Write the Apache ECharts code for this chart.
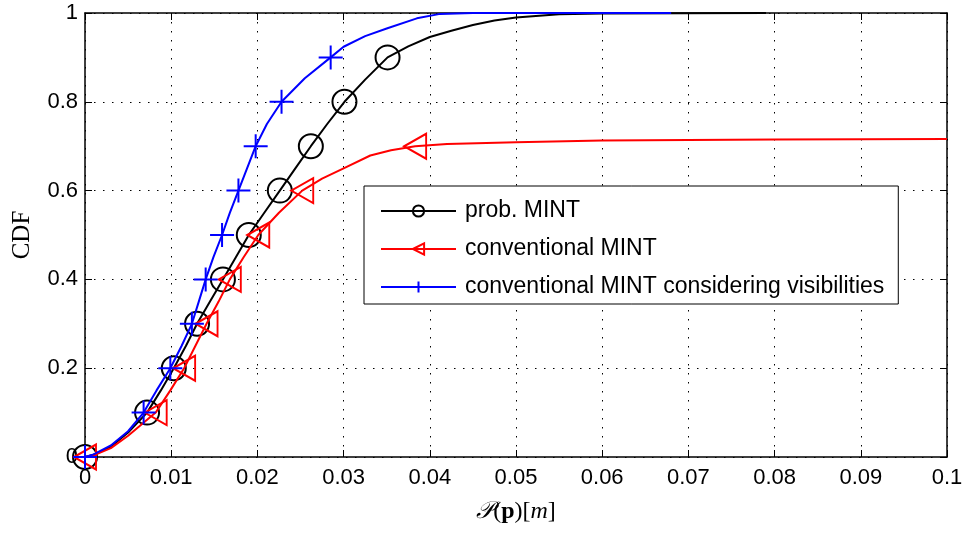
<!DOCTYPE html>
<html>
<head>
<meta charset="utf-8">
<script src="https://cdn.jsdelivr.net/npm/echarts@6/dist/echarts.min.js"></script>
<style>
  html, body { margin: 0; padding: 0; background: #fff; }
  #chart { width: 968px; height: 533px; }
</style>
</head>
<body>
<div id="chart"></div>
<script>
// Empirical CDF curves of the positioning error P(p) in metres
const seriesNames = ['prob. MINT', 'conventional MINT', 'conventional MINT considering visibilities'];

// CDF levels at which each curve carries a marker
const markerLevels = [0, 0.1, 0.2, 0.3, 0.4, 0.5, 0.6, 0.7, 0.8, 0.9];

const xTicks = [0, 0.01, 0.02, 0.03, 0.04, 0.05, 0.06, 0.07, 0.08, 0.09, 0.1];
const yTicks = [0, 0.2, 0.4, 0.6, 0.8, 1];

// prob. MINT
const probErr = [0, 0.001, 0.003, 0.005, 0.0072, 0.0088, 0.0103, 0.0117, 0.013, 0.0145, 0.016, 0.0175, 0.019,
  0.0208, 0.0226, 0.0244, 0.0262, 0.0281, 0.0301, 0.0325, 0.0351, 0.0375, 0.04, 0.0425, 0.045, 0.0475, 0.05, 0.055, 0.06, 0.079];
const probCdf = [0, 0.005, 0.023, 0.055, 0.1, 0.15, 0.2, 0.25, 0.3, 0.35, 0.4, 0.45, 0.5,
  0.55, 0.6, 0.65, 0.7, 0.75, 0.8, 0.85, 0.9, 0.925, 0.946, 0.96, 0.973, 0.983, 0.99, 0.997, 0.999, 1];

// conventional MINT
const convErr = [0, 0.001, 0.003, 0.005, 0.0082, 0.0099, 0.0115, 0.0128, 0.0141, 0.0155, 0.0168, 0.0184, 0.0201,
  0.0225, 0.0252, 0.0275, 0.03, 0.0331, 0.0355, 0.0383, 0.042, 0.05, 0.06, 0.08, 0.1];
const convCdf = [0, 0.004, 0.02, 0.048, 0.1, 0.15, 0.2, 0.25, 0.3, 0.35, 0.4, 0.45, 0.5,
  0.55, 0.6, 0.627, 0.65, 0.679, 0.691, 0.7, 0.705, 0.709, 0.713, 0.715, 0.716];

// conventional MINT considering visibilities
const visErr = [0, 0.001, 0.003, 0.005, 0.0068, 0.0083, 0.0099, 0.0112, 0.0124, 0.0132, 0.014, 0.0149, 0.0159,
  0.0168, 0.0178, 0.0188, 0.0198, 0.0211, 0.0228, 0.0255, 0.0285, 0.03, 0.0325, 0.035, 0.0385, 0.0412, 0.045, 0.068];
const visCdf = [0, 0.006, 0.026, 0.058, 0.1, 0.15, 0.2, 0.25, 0.3, 0.35, 0.4, 0.45, 0.5,
  0.55, 0.6, 0.65, 0.7, 0.75, 0.8, 0.853, 0.9, 0.924, 0.948, 0.965, 0.988, 0.998, 1, 1];

const colors = ['#000000', '#ff0000', '#0000ff'];
const symbols = [
  'circle',
  'path://M0,12 L22,0 L22,24 Z',
  'path://M12,0 L12,24 M0,12 L24,12'
];
const symbolSizes = [24, [22, 25], [24, 24]];

function buildData(xs, ys) {
  return xs.map((x, i) => {
    const isMark = markerLevels.includes(ys[i]) && !(i > 0 && ys[i - 1] === ys[i]);
    return isMark ? { value: [x, ys[i]] } : { value: [x, ys[i]], symbol: 'none' };
  });
}

const curves = [[probErr, probCdf], [convErr, convCdf], [visErr, visCdf]];

const chart = echarts.init(document.getElementById('chart'), null, { renderer: 'canvas' });

const sans = 'Liberation Sans, Arial, Helvetica, sans-serif';
const serif = 'Liberation Serif, Times New Roman, serif';

const series = curves.map((c, k) => ({
  name: seriesNames[k],
  type: 'line',
  data: buildData(c[0], c[1]),
  symbol: symbols[k],
  symbolSize: symbolSizes[k],
  showAllSymbol: true,
  clip: false,
  lineStyle: { color: colors[k], width: 2, join: 'round' },
  itemStyle: { color: 'rgba(0,0,0,0)', borderColor: colors[k], borderWidth: 2 },
  emphasis: { disabled: true },
  z: 3 + k
}));

chart.setOption({
  animation: false,
  backgroundColor: '#ffffff',
  grid: { left: 85, right: 21, top: 13, bottom: 76 },
  legend: {
    orient: 'vertical',
    left: 364,
    top: 186,
    data: seriesNames,
    itemWidth: 75,
    itemHeight: 14,
    itemGap: 14,
    padding: [13, 14, 5, 16],
    backgroundColor: '#ffffff',
    borderColor: '#000000',
    borderWidth: 1,
    borderRadius: 0,
    selectedMode: false,
    textStyle: { fontFamily: sans, fontSize: 23, color: '#000', padding: [0, 0, 0, 4], lineHeight: 24 },
    z: 10
  },
  xAxis: [{
    type: 'value',
    min: 0, max: 0.1, interval: 0.01,
    name: '{cal|𝒫}{n|(}{b|p}{n|)[}{i|m}{n|]}',
    nameLocation: 'middle',
    nameGap: 43,
    nameTextStyle: {
      rich: {
        cal: { fontFamily: 'DejaVu Serif, serif', fontStyle: 'italic', fontSize: 24, color: '#000' },
        n: { fontFamily: serif, fontSize: 24, color: '#000' },
        b: { fontFamily: serif, fontSize: 24, fontWeight: 'bold', color: '#000' },
        i: { fontFamily: serif, fontSize: 24, fontStyle: 'italic', color: '#000' }
      }
    },
    axisLine: { show: true, onZero: false, lineStyle: { color: '#000', width: 1.5 } },
    axisTick: { show: true, inside: true, length: 7, lineStyle: { color: '#000', width: 1 } },
    axisLabel: {
      fontFamily: sans, fontSize: 22, color: '#000', margin: 10,
      formatter: v => { const t = xTicks.find(tk => Math.abs(tk - v) < 1e-9); return t === undefined ? '' : String(t); }
    },
    splitLine: { show: true, lineStyle: { color: '#000', width: 1, type: [1.5, 7.5] } }
  }, {
    type: 'value', position: 'top',
    min: 0, max: 0.1, interval: 0.01,
    axisLine: { show: true, onZero: false, lineStyle: { color: '#000', width: 1.5 } },
    axisTick: { show: true, inside: true, length: 7, lineStyle: { color: '#000', width: 1 } },
    axisLabel: { show: false },
    splitLine: { show: false }
  }],
  yAxis: [{
    type: 'value',
    min: 0, max: 1, interval: 0.2,
    name: 'CDF',
    nameLocation: 'middle',
    nameRotate: 90,
    nameGap: 50,
    nameTextStyle: { fontFamily: serif, fontSize: 25, color: '#000' },
    axisLine: { show: true, onZero: false, lineStyle: { color: '#000', width: 1.5 } },
    axisTick: { show: true, inside: true, length: 7, lineStyle: { color: '#000', width: 1 } },
    axisLabel: {
      fontFamily: sans, fontSize: 22, color: '#000', margin: 7,
      formatter: v => { const t = yTicks.find(tk => Math.abs(tk - v) < 1e-9); return t === undefined ? '' : String(t); }
    },
    splitLine: { show: true, lineStyle: { color: '#000', width: 1, type: [1.5, 7.5] } }
  }, {
    type: 'value', position: 'right',
    min: 0, max: 1, interval: 0.2,
    axisLine: { show: true, onZero: false, lineStyle: { color: '#000', width: 1.5 } },
    axisTick: { show: true, inside: true, length: 7, lineStyle: { color: '#000', width: 1 } },
    axisLabel: { show: false },
    splitLine: { show: false }
  }],
  series: series
});
</script>
</body>
</html>
